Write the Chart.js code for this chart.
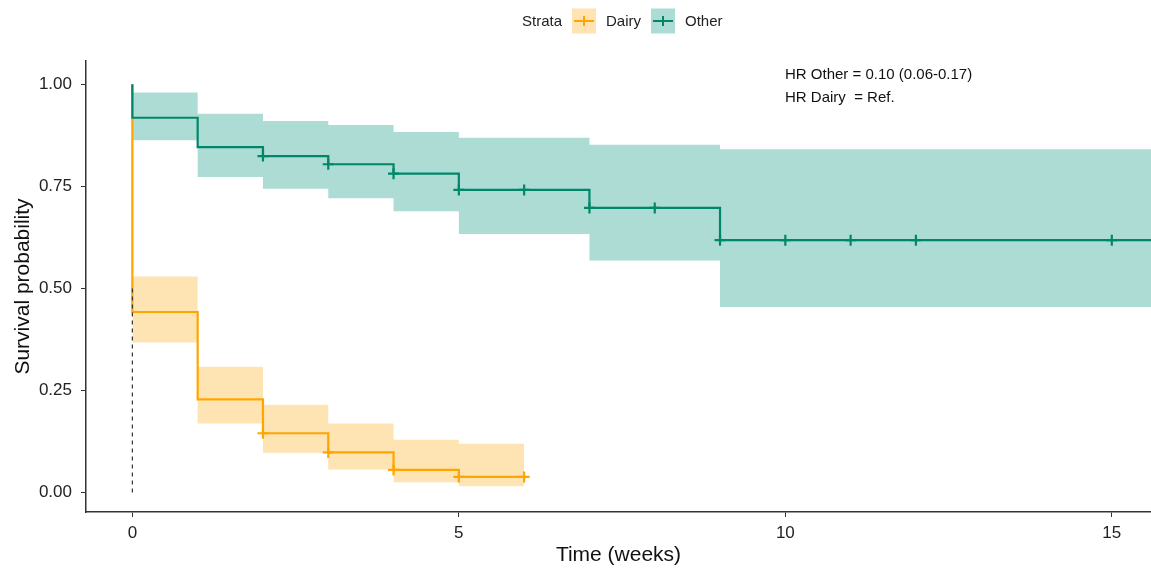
<!DOCTYPE html>
<html>
<head>
<meta charset="utf-8">
<script src="https://cdn.jsdelivr.net/npm/chart.js@4.4.1/dist/chart.umd.min.js"></script>
<style>
  html, body { margin: 0; padding: 0; background: #fff; }
</style>
</head>
<body>
<canvas id="km" width="1151" height="571"></canvas>
<script>
// Kaplan-Meier curves, values
const legendTitle = 'Strata';
const strata = ['Dairy', 'Other'];

const dairyTime  = [0, 0, 1, 2, 3, 4, 5, 6];
const dairySurv  = [1, 0.442, 0.228, 0.145, 0.098, 0.055, 0.038, 0.038];
const dairyUpper = [1, 0.529, 0.308, 0.215, 0.169, 0.129, 0.119, 0.119];
const dairyLower = [1, 0.367, 0.169, 0.097, 0.056, 0.025, 0.015, 0.015];
const dairyCensorTime = [2, 3, 4, 5, 6];
const dairyCensorSurv = [0.145, 0.098, 0.055, 0.038, 0.038];

const otherTime  = [0, 0, 1, 2, 3, 4, 5, 7, 9, 16];
const otherSurv  = [1, 0.918, 0.846, 0.824, 0.804, 0.781, 0.741, 0.697, 0.618, 0.618];
const otherUpper = [1, 0.980, 0.928, 0.910, 0.900, 0.883, 0.869, 0.852, 0.841, 0.841];
const otherLower = [1, 0.863, 0.773, 0.744, 0.721, 0.689, 0.633, 0.568, 0.454, 0.454];
const otherCensorTime = [2, 3, 4, 5, 6, 7, 8, 9, 10, 11, 12, 15];
const otherCensorSurv = [0.824, 0.804, 0.781, 0.741, 0.741, 0.697, 0.697, 0.618, 0.618, 0.618, 0.618, 0.618];

// median survival line for Dairy
const medianTime = [0, 0];
const medianSurv = [0, 0.5];

const xTicks = [0, 5, 10, 15];
const yTicks = [0, 0.25, 0.5, 0.75, 1];

const hrLines = ['HR Other = 0.10 (0.06-0.17)', 'HR Dairy  = Ref.'];

const ORANGE = '#FFA500';
const ORANGE_BAND = '#FFE4B3';
const GREEN = '#00876A';
const GREEN_BAND = '#ADDCD5';
const FONT = '"Liberation Sans", Arial, sans-serif';

const pts = (xs, ys) => xs.map((x, i) => ({ x: x, y: ys[i] }));

function band(xs, ys, color, fill) {
  return {
    data: pts(xs, ys), showLine: true, stepped: true,
    borderColor: 'transparent', borderWidth: 1, pointRadius: 0,
    backgroundColor: color, fill: fill, order: 10
  };
}

const datasets = [
  band(otherTime, otherUpper, GREEN_BAND, '+1'),
  band(otherTime, otherLower, GREEN_BAND, false),
  band(dairyTime, dairyUpper, ORANGE_BAND, '+1'),
  band(dairyTime, dairyLower, ORANGE_BAND, false),
  {
    data: pts(dairyTime, dairySurv), showLine: true, stepped: true,
    borderColor: ORANGE, borderWidth: 2.2, pointRadius: 0, fill: false, order: 6
  },
  {
    data: pts(otherTime, otherSurv), showLine: true, stepped: true,
    borderColor: GREEN, borderWidth: 2.2, pointRadius: 0, fill: false, order: 5
  },
  {
    data: pts(dairyCensorTime, dairyCensorSurv), showLine: false,
    pointStyle: 'cross', pointRadius: 5.5, pointBorderWidth: 2.2,
    borderColor: ORANGE, order: 4
  },
  {
    data: pts(otherCensorTime, otherCensorSurv), showLine: false,
    pointStyle: 'cross', pointRadius: 5.5, pointBorderWidth: 2.2,
    borderColor: GREEN, order: 3
  },
  {
    data: pts(medianTime, medianSurv), showLine: true,
    borderColor: '#333', borderWidth: 1.2, borderDash: [4, 4],
    pointRadius: 0, fill: false, order: 1
  }
];

// legend at the top and the HR note, drawn after the chart
const overlay = {
  id: 'overlay',
  afterDraw(chart) {
    const ctx = chart.ctx;
    const fills = [ORANGE_BAND, GREEN_BAND];
    const lines = [ORANGE, GREEN];
    ctx.save();
    ctx.font = '15px ' + FONT;
    ctx.textBaseline = 'middle';
    ctx.fillStyle = '#222';
    const cy = 21;
    ctx.fillText(legendTitle, 522, cy + 1);
    let x = 572;
    strata.forEach((name, i) => {
      ctx.fillStyle = fills[i];
      ctx.fillRect(x, cy - 12.5, 24, 25);
      ctx.strokeStyle = lines[i];
      ctx.lineWidth = 2;
      ctx.beginPath();
      ctx.moveTo(x + 2, cy); ctx.lineTo(x + 22, cy);
      ctx.moveTo(x + 12, cy - 5); ctx.lineTo(x + 12, cy + 5);
      ctx.stroke();
      ctx.fillStyle = '#222';
      ctx.fillText(name, x + 34, cy + 1);
      x += 34 + ctx.measureText(name).width + 10;
    });
    ctx.fillStyle = '#111';
    hrLines.forEach((t, i) => ctx.fillText(t, 785, 75 + i * 23));
    ctx.restore();
  }
};

const axisCommon = {
  type: 'linear',
  grid: { drawOnChartArea: false, drawTicks: true, tickLength: 5, color: '#333', lineWidth: 1 },
  border: { display: true, color: '#333', width: 1.5 },
};

new Chart(document.getElementById('km'), {
  type: 'scatter',
  data: { datasets: datasets },
  options: {
    responsive: false,
    animation: false,
    devicePixelRatio: 1,
    layout: { autoPadding: false, padding: { top: 61, left: 0, right: 0, bottom: 0 } },
    plugins: { legend: { display: false }, tooltip: { enabled: false } },
    scales: {
      x: Object.assign({}, axisCommon, {
        min: -0.71, max: 15.6,
        afterBuildTicks: s => { s.ticks = xTicks.map(v => ({ value: v })); },
        afterFit: s => { s.height = 59; },
        ticks: { color: '#222', font: { family: FONT, size: 17 }, padding: 6, maxRotation: 0, autoSkip: false },
        title: { display: true, text: 'Time (weeks)', color: '#111', font: { family: FONT, size: 21 }, padding: { top: 0, bottom: 3 } }
      }),
      y: Object.assign({}, axisCommon, {
        min: -0.048, max: 1.057,
        afterBuildTicks: s => { s.ticks = yTicks.map(v => ({ value: v })); },
        afterFit: s => { s.width = 86; },
        ticks: { color: '#222', font: { family: FONT, size: 17 }, padding: 9, callback: v => v.toFixed(2) },
        title: { display: true, text: 'Survival probability', color: '#111', font: { family: FONT, size: 21 }, padding: { top: 11, bottom: 0 } }
      })
    }
  },
  plugins: [overlay]
});
</script>
</body>
</html>
